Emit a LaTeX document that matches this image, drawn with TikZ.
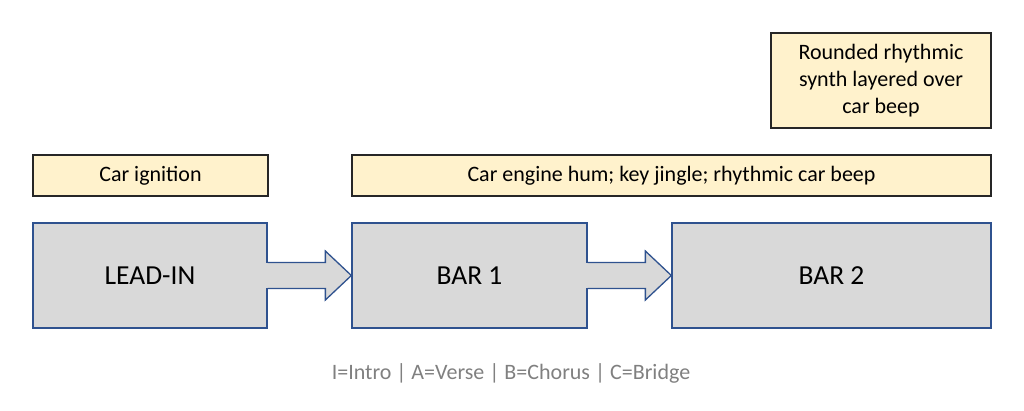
\documentclass[tikz,border=0pt]{standalone}
\usepackage{fontspec}
\setmainfont{Carlito}
\usepackage{xcolor}
\usepackage{tikz}

\definecolor{notefill}{RGB}{255,242,204}
\definecolor{barfill}{RGB}{217,217,217}
\definecolor{barline}{RGB}{47,82,143}
\definecolor{keygray}{RGB}{128,128,128}

\begin{document}
\begin{tikzpicture}[x=1pt,y=-1pt,
	note/.style={draw=black!85,line width=1.6pt,fill=notefill,inner sep=0pt,font=\fontsize{22}{27}\selectfont,align=center},
	bar/.style={draw=barline,line width=1.3pt,fill=barfill,inner sep=0pt,font=\fontsize{27.5}{30}\selectfont},
	flow/.style={draw=barline,line width=1.3pt,line join=miter}]
	\useasboundingbox (0,0) rectangle (1024,410);
	
	\node[note,minimum width=220pt,minimum height=95pt] (synth) at (881,80.5) {Rounded rhythmic\\synth layered over\\car beep};
	\node[note,minimum width=235pt,minimum height=41pt] (ign) at (150.5,175.5) {Car ignition};
	\node[note,minimum width=639pt,minimum height=41pt] (hum) at (671.5,175.5) {Car engine hum; key jingle; rhythmic car beep};
	
	\node[bar,minimum width=234pt,minimum height=105pt] (lead) at (150,275.5) {LEAD-IN};
	\node[bar,minimum width=235pt,minimum height=105pt] (bar1) at (469.5,275.5) {BAR 1};
	\node[bar,minimum width=319pt,minimum height=105pt] (bar2) at (831.5,275.5) {BAR 2};
	
	\foreach \a/\b in {lead/bar1,bar1/bar2}{
		\fill[barfill] ([xshift=-2pt,yshift=12.4pt]\a.east) -- ([xshift=-26pt,yshift=12.4pt]\b.west) -- ([xshift=-26pt,yshift=24.5pt]\b.west) -- (\b.west) -- ([xshift=-26pt,yshift=-24.5pt]\b.west) -- ([xshift=-26pt,yshift=-12.4pt]\b.west) -- ([xshift=-2pt,yshift=-12.4pt]\a.east) -- cycle;
		\draw[flow] ([yshift=13pt]\a.east) -- ([xshift=-26pt,yshift=13pt]\b.west) -- ([xshift=-26pt,yshift=24.5pt]\b.west) -- (\b.west) -- ([xshift=-26pt,yshift=-24.5pt]\b.west) -- ([xshift=-26pt,yshift=-13pt]\b.west) -- ([yshift=-13pt]\a.east);
	}
	
	\node[text=keygray,font=\fontsize{22}{24}\selectfont] (key) at (511,373) {I=Intro | A=Verse | B=Chorus | C=Bridge};
\end{tikzpicture}
\end{document}
